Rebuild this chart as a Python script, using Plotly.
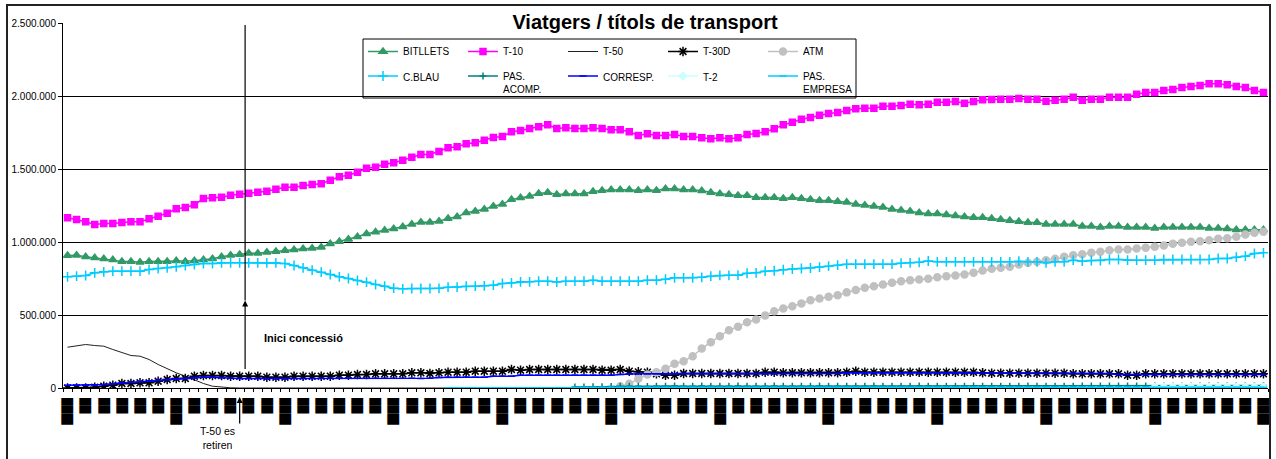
import plotly.graph_objects as go

N = 133
x = list(range(N))

bitllets = [907500, 909500, 898600, 891700, 884900, 878000, 866400, 866400, 861600, 866400,
            866400, 866400, 871200, 866400, 871200, 878000, 884900, 898600, 909500, 914300,
            923200, 923200, 930100, 934900, 941700, 946500, 953400, 957500, 964300, 987600,
            1003400, 1019100, 1035600, 1056100, 1068500, 1079800, 1090400, 1104100, 1121900, 1135600,
            1135600, 1142500, 1160900, 1172500, 1199900, 1210900, 1224600, 1245100, 1258800, 1291000,
            1302700, 1313600, 1332100, 1339000, 1325300, 1330100, 1330100, 1330100, 1345800, 1352700,
            1357500, 1357500, 1357500, 1352700, 1357500, 1352700, 1364300, 1364300, 1357500, 1357500,
            1351600, 1339000, 1330100, 1325300, 1318400, 1318400, 1304700, 1304700, 1304700, 1297900,
            1304700, 1297900, 1291000, 1284200, 1284200, 1277300, 1272500, 1258800, 1252000, 1245100,
            1238300, 1224600, 1217700, 1210900, 1199900, 1193100, 1193100, 1186200, 1179400, 1172500,
            1167800, 1167800, 1160900, 1154100, 1147200, 1140400, 1133500, 1133500, 1121900, 1121900,
            1121900, 1121900, 1108200, 1108200, 1101300, 1108200, 1108200, 1101300, 1101300, 1101300,
            1094500, 1101300, 1101300, 1101300, 1101300, 1101300, 1094500, 1094500, 1090400, 1083500,
            1083500, 1083500, 1083500]

t10 = [1165700, 1154000, 1138300, 1119800, 1126700, 1126700, 1133500, 1138300, 1138300, 1158800,
       1176700, 1197200, 1227300, 1236200, 1254700, 1297900, 1302700, 1306800, 1320500, 1327300,
       1334200, 1341000, 1347900, 1361600, 1375300, 1375300, 1386900, 1393800, 1398600, 1423200,
       1446500, 1457500, 1478000, 1505400, 1512000, 1532000, 1542300, 1560500, 1580800, 1599200,
       1599200, 1619800, 1645000, 1651800, 1672300, 1679200, 1697400, 1715700, 1722500, 1754700,
       1763600, 1777300, 1788700, 1802400, 1777300, 1782000, 1777300, 1777300, 1782000, 1777300,
       1768200, 1768200, 1754700, 1729400, 1740700, 1729400, 1729400, 1736200, 1722500, 1722500,
       1714600, 1706600, 1713500, 1706600, 1713500, 1736200, 1743100, 1754700, 1775000, 1802400,
       1820500, 1841000, 1852700, 1868400, 1880000, 1886900, 1900600, 1912200, 1916400, 1916400,
       1930100, 1930100, 1934900, 1943800, 1939700, 1943800, 1957500, 1957500, 1962300, 1950600,
       1962300, 1973900, 1976000, 1978400, 1978400, 1983000, 1978000, 1978000, 1964300, 1971200,
       1978000, 1991700, 1971200, 1978000, 1978000, 1991700, 1991700, 1991700, 2012300, 2023900,
       2023900, 2037600, 2044400, 2058100, 2065000, 2071800, 2083500, 2083500, 2076600, 2065000,
       2058100, 2037600, 2023900]

t50 = [279400, 291100, 297900, 291100, 286300, 263700, 241100, 222600, 217800, 195200,
       161000, 131500, 104100, 80800, 53400, 30800, 12300, 5500, 1400, 0,
       0, 0, 0, 0, 0, 0, 0, 0, 0, 0,
       0, 0, 0, 0, 0, 0, 0, 0, 0, 0,
       0, 0, 0, 0, 0, 0, 0, 0, 0, 0,
       0, 0, 0, 0, 0, 0, 0, 0, 0, 0,
       0, 0, 0, 0, 0, 0, 0, 0, 0, 0,
       0, 0, 0, 0, 0, 0, 0, 0, 0, 0,
       0, 0, 0, 0, 0, 0, 0, 0, 0, 0,
       0, 0, 0, 0, 0, 0, 0, 0, 0, 0,
       0, 0, 0, 0, 0, 0, 0, 0, 0, 0,
       0, 0, 0, 0, 0, 0, 0, 0, 0, 0,
       0, 0, 0, 0, 0, 0, 0, 0, 0, 0,
       0, 0, 0]

t30d = [0, 0, 0, 5000, 12300, 19200, 30800, 30800, 35600, 35600,
        46600, 58200, 65100, 65100, 80800, 85600, 85600, 85600, 80800, 80800,
        80800, 80800, 74000, 74000, 74000, 80800, 80800, 80800, 80800, 80800,
        87700, 87700, 92500, 92500, 97300, 97300, 97300, 97300, 104100, 104100,
        99300, 104100, 108200, 108200, 108200, 115100, 115100, 115100, 115100, 126700,
        121900, 126700, 126700, 126700, 126700, 126700, 126700, 126700, 126700, 121900,
        121900, 126700, 115100, 110900, 108200, 97300, 87700, 87700, 99300, 99300,
        99300, 99300, 99300, 99300, 99300, 99300, 99300, 108200, 108200, 104100,
        104100, 104100, 104100, 104100, 104100, 104100, 108200, 115100, 108200, 108200,
        108200, 108200, 108200, 108200, 108200, 108200, 108200, 108200, 108200, 108200,
        108200, 104100, 101400, 101400, 101400, 101400, 101400, 101400, 101400, 101400,
        101400, 97300, 97300, 97300, 97300, 97300, 97300, 87700, 87700, 97300,
        97300, 97300, 97300, 97300, 97300, 97300, 97300, 97300, 97300, 97300,
        97300, 97300, 97300]

atm = [None] * 61 + [
    12300, 28800, 63000, 92500, 108200, 131500, 165700, 183600, 217800,
    270500, 313700, 354800, 395900, 419200, 450700, 469200, 496600, 526000, 544500,
    560300, 578700, 601300, 613000, 624600, 635600, 655000, 672000, 686300, 697200,
    708900, 720500, 731500, 738300, 743100, 747900, 758900, 765700, 770500, 777400,
    789000, 804800, 816400, 823200, 830100, 845900, 857500, 864300, 875300, 884900,
    898600, 909500, 916400, 926000, 932800, 943800, 948600, 948600, 955400, 960200,
    967100, 976000, 987600, 994500, 1001300, 1005400, 1012300, 1021900, 1026000, 1035600,
    1051300, 1062900, 1069800]

cblau = [761600, 765700, 770500, 789000, 795900, 800000, 800000, 800000, 800000, 811600,
         818500, 823200, 830100, 839000, 845900, 852700, 852700, 857500, 857500, 857500,
         857500, 857500, 857500, 857500, 852700, 839000, 823200, 806800, 793100, 777400,
         761600, 750000, 736300, 724600, 708900, 697200, 684000, 679400, 681500, 681500,
         681500, 683000, 690400, 691500, 697200, 697200, 700000, 704100, 715700, 720500,
         727400, 727400, 731500, 731500, 726000, 731500, 731500, 731500, 738300, 731500,
         731500, 731500, 731500, 731500, 738300, 738300, 745000, 754700, 754700, 754700,
         758000, 766000, 771000, 772000, 773000, 786000, 789000, 800000, 803000, 810000,
         815000, 818500, 822000, 828000, 834200, 841100, 848000, 848000, 848000, 848000,
         848000, 848000, 855000, 857500, 861000, 870000, 864300, 864300, 864300, 864300,
         864300, 864300, 864300, 864300, 864300, 868500, 864300, 864300, 857500, 864300,
         864300, 875300, 868500, 873200, 873200, 880100, 880100, 875300, 875300, 875300,
         875300, 880100, 880100, 880100, 880100, 880100, 880100, 887000, 887000, 895900,
         902700, 921200, 926000]

pas_acomp = [None] * 56 + [
    6000, 7000, 8000, 9000, 10000, 12000, 12000, 12000, 11000, 12000,
    12000, 13000, 12000, 12000, 13000, 12000, 12000, 12000, 13000, 12000,
    12000, 12000, 13000, 12000, 12000, 12000, 12000, 13000, 12000, 12000,
    12000, 12000, 12000, 13000, 12000, 12000, 12000, 12000, 13000, 12000,
    12000, 12000, 12000, 12000, 13000, 12000, 12000, 12000, 12000, 12000,
    13000, 12000, 12000, 12000, 12000, 12000, 13000, 14000, 14000, 14000,
    14000, 14000, 14000, 14000, 15000, 14000, 14000, 14000, 14000, 15000,
    15000, 15000, 15000, 16000, 16000, 16000, 17000]

corresp = [19200, 19200, 19200, 19200, 24000, 28800, 35600, 39700, 42500, 46600,
           53400, 58200, 63000, 67100, 71900, 74000, 74000, 69900, 67100, 65100,
           65100, 65100, 65100, 65100, 65100, 65100, 65100, 65100, 67000, 67000,
           67000, 67000, 67000, 67000, 67000, 67000, 67000, 67000, 67000, 65100,
           67000, 71900, 74000, 74000, 74000, 74000, 74000, 80800, 80800, 80800,
           87700, 87700, 87700, 87700, 87700, 87700, 87700, 87700, 87700, 87700,
           87700, 93000, 97000, 97000, 97000, 97000, 97000, 97000, 99300, 99300,
           99300, 99300, 99300, 99300, 99300, 99300, 99300, 99300, 99300, 99300,
           99300, 99300, 99300, 99300, 99300, 99300, 104100, 104100, 104100, 104100,
           104100, 104100, 104100, 104100, 104100, 104100, 104100, 104100, 104100, 104100,
           104100, 99300, 99300, 99300, 99300, 99300, 99300, 99300, 99300, 99300,
           99300, 99300, 99300, 99300, 99300, 99300, 93000, 93000, 93000, 93000,
           93000, 93000, 93000, 93000, 93000, 93000, 93000, 93000, 93000, 93000,
           93000, 93000, 93000]

t2 = [None] * 120 + [5000, 6000, 6000, 5000, 6000, 6000, 5000, 6000, 6000, 6000, 5000, 6000, 6000]

pas_empresa = [None] * 42 + [
    1500, 1500, 1500, 1500, 1500, 1500, 1500, 1500, 1500, 1500,
    1500, 1500, 1500, 1500, 4000, 5000, 5000, 5000, 5000, 5000,
    5000, 5000, 5000, 5000, 5000, 5000, 5000, 5000, 5000, 5000,
    5000, 5000, 5000, 5000, 5000, 5000, 5000, 5000, 5000, 5000,
    5000, 5000, 5000, 5000, 5000, 5000, 5000, 5000, 5000, 5000,
    5000, 5000, 5000, 5000, 5000, 5000, 5000, 5000, 5000, 5000,
    5000, 5000, 5000, 5000, 5000, 5000, 5000, 5000, 5000, 5000,
    5000, 5000, 5000, 5000, 5000, 5000, 5000, 5000, 5000, 5000,
    5000, 5000, 5000, 5000, 5000, 5000, 5000, 5000, 5000, 5000, 5000]

# x tick labels (rendered as solid blocks in the original); longer at each year start
label_positions = list(range(0, N, 2))
tick_labels = ["███▌" if p % 12 == 0 else "██" for p in label_positions]

y_ticks = [0, 500000, 1000000, 1500000, 2000000, 2500000]

FONT = "Liberation Sans, Arial, sans-serif"

series = [
    ("BITLLETS", bitllets, "#339966", "triangle-up", 7, 1.5, "legend"),
    ("T-10", t10, "#FF00FF", "square", 6, 1.5, "legend"),
    ("T-50", t50, "#222222", None, 0, 1, "legend"),
    ("T-30D", t30d, "#000000", "asterisk-open", 8, 1.5, "legend"),
    ("ATM", atm, "#C0C0C0", "circle", 7, 1.5, "legend"),
    ("C.BLAU", cblau, "#00CCFF", "cross-thin-open", 7, 1.5, "legend2"),
    ("PAS.<br>ACOMP.", pas_acomp, "#008080", "cross-thin-open", 5, 1.5, "legend2"),
    ("CORRESP.", corresp, "#0000FF", "line-ew-open", 5, 1.5, "legend2"),
    ("T-2", t2, "#CCFFFF", "diamond", 6, 1.5, "legend2"),
    ("PAS.<br>EMPRESA", pas_empresa, "#00CCFF", "line-ew-open", 5, 1.5, "legend2"),
]

fig = go.Figure()
for name, vals, color, sym, msize, lw, leg in series:
    if sym is None:
        fig.add_trace(go.Scatter(x=x, y=vals, name=name, mode="lines",
                                 line=dict(color=color, width=lw), legend=leg))
    else:
        fig.add_trace(go.Scatter(
            x=x, y=vals, name=name, mode="lines+markers",
            line=dict(color=color, width=lw),
            marker=dict(symbol=sym, size=msize, color=color,
                        line=dict(color=color, width=1.5)),
            legend=leg))

W, H = 1276, 459
ML, MR, MT, MB = 63, 8, 23, 71
pw = W - ML - MR
ph = H - MT - MB


def px_x(p):
    return (p - ML) / pw


def px_y(p):
    return (H - MB - p) / ph


shapes = [
    # legend box
    dict(type="rect", xref="paper", yref="paper",
         x0=px_x(363), x1=px_x(856), y0=px_y(98), y1=px_y(39),
         line=dict(color="#000000", width=1), fillcolor="white", layer="below"),
    # chart area border
    dict(type="rect", xref="paper", yref="paper",
         x0=px_x(7), x1=px_x(1270), y0=px_y(475), y1=px_y(5),
         line=dict(color="#222222", width=2), fillcolor="rgba(0,0,0,0)", layer="above"),
    # vertical marker line for concession start
    dict(type="line", xref="x", yref="y", x0=19.6, x1=19.6, y0=600000, y1=2486000,
         line=dict(color="#000000", width=1.2)),
]

annotations = [
    dict(x=19.6, y=600000, xref="x", yref="y", text="", showarrow=True,
         ax=0, ay=70, arrowhead=2, arrowsize=1, arrowwidth=1.2, arrowcolor="#000000"),
    dict(x=26.0, y=342000, xref="x", yref="y", text="<b>Inici concessió</b>", showarrow=False,
         font=dict(family=FONT, size=11, color="#000000")),
    dict(x=19.0, y=px_y(397), xref="x", yref="paper", text="", showarrow=True,
         ax=0, ay=28, arrowhead=2, arrowsize=1, arrowwidth=1.2, arrowcolor="#000000"),
    dict(x=16.5, y=px_y(423), xref="x", yref="paper", yanchor="top",
         text="T-50 es<br>retiren", showarrow=False,
         font=dict(family=FONT, size=10.5, color="#000000"), align="center"),
]

fig.update_layout(
    width=W, height=H,
    margin=dict(l=ML, r=MR, t=MT, b=MB, autoexpand=False),
    paper_bgcolor="white", plot_bgcolor="white",
    separators=",.",
    font=dict(family=FONT, size=10, color="#000000"),
    title=dict(text="Viatgers / títols de transport", x=645 / W, xref="container", xanchor="center",
               y=1 - 22 / H, yref="container", yanchor="middle",
               font=dict(family=FONT, size=20, color="#000000", weight="bold")),
    legend=dict(orientation="h", x=px_x(363), xanchor="left",
                y=px_y(37), yanchor="top",
                entrywidth=55, entrywidthmode="pixels",
                bgcolor="rgba(0,0,0,0)", borderwidth=0,
                font=dict(family=FONT, size=10, color="#000000"), traceorder="normal"),
    legend2=dict(orientation="h", x=px_x(363), xanchor="left",
                 y=px_y(63), yanchor="top",
                 entrywidth=55, entrywidthmode="pixels", valign="top",
                 bgcolor="rgba(0,0,0,0)", borderwidth=0,
                 font=dict(family=FONT, size=10, color="#000000"), traceorder="normal"),
    shapes=shapes,
    annotations=annotations,
    showlegend=True,
)

fig.update_xaxes(
    range=[-0.5, N - 0.5], tickmode="array", tickvals=label_positions, ticktext=tick_labels,
    tickangle=90, tickfont=dict(family="DejaVu Sans", size=10, color="#000000"),
    ticks="outside", ticklen=7, tickcolor="rgba(0,0,0,0)",
    minor=dict(tickmode="array", tickvals=[i - 0.5 for i in range(N + 1)],
               ticks="outside", ticklen=3, tickcolor="#000000", showgrid=False),
    showline=True, linecolor="#000000", linewidth=1,
    showgrid=False, zeroline=False,
)
fig.update_yaxes(
    range=[0, 2500000], tickmode="array", tickvals=y_ticks, tickformat=",d",
    tickfont=dict(family=FONT, size=10, color="#000000"),
    ticks="outside", ticklen=4, tickcolor="#000000",
    showline=True, linecolor="#000000", linewidth=1,
    showgrid=True, gridcolor="#000000", gridwidth=1, zeroline=False,
)

fig.write_html("out.html", config={"displayModeBar": False},
               post_script="document.body.style.margin='0';")
